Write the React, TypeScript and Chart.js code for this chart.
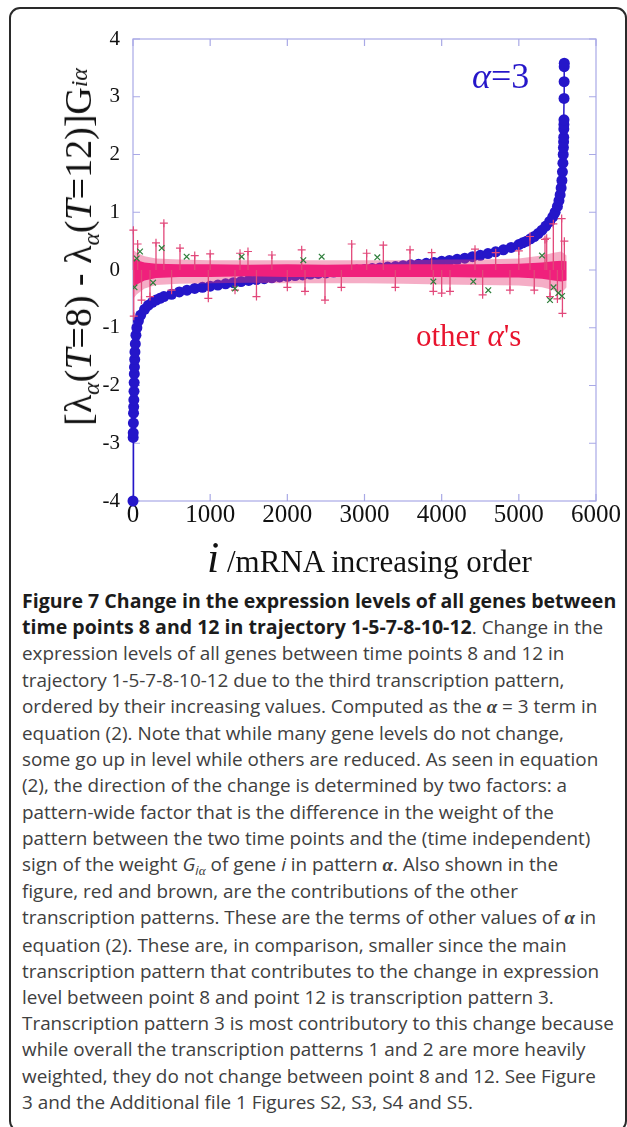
import React, { useEffect, useRef } from 'react';
import { Chart, registerables } from 'chart.js';

Chart.register(...registerables);

// axis ticks
const xTicks = [0, 1000, 2000, 3000, 4000, 5000, 6000];
const yTicks = [-4, -3, -2, -1, 0, 1, 2, 3, 4];

// alpha = 3 term, genes sorted by value
const alpha3X = [
  0, 2, 3, 5, 7, 9, 11, 13, 15, 17, 19, 22, 25, 30, 38, 50, 70, 100, 150, 200,
  250, 300, 350, 400, 500, 600, 700, 800, 900, 1000, 1100, 1200, 1300, 1400,
  1500, 1600, 1700, 1800, 1900, 2000, 2100, 2200, 2300, 2400, 2500, 2600, 2700,
  2800, 2900, 3000, 3100, 3200, 3300, 3400, 3500, 3600, 3700, 3800, 3900, 4000,
  4100, 4200, 4300, 4400, 4500, 4600, 4700, 4800, 4900, 5000, 5050, 5100, 5150,
  5200, 5250, 5300, 5350, 5400, 5440, 5470, 5500, 5520, 5535, 5548, 5558, 5565,
  5571, 5575, 5578, 5580, 5582, 5583, 5584, 5585, 5586, 5587, 5588, 5589,
];
const alpha3Y = [
  -4.0, -2.9, -2.82, -2.65, -2.48, -2.37, -2.25, -2.1, -1.95, -1.8, -1.68, -1.55,
  -1.42, -1.28, -1.13, -1.0, -0.88, -0.78, -0.68, -0.61, -0.56, -0.52, -0.49,
  -0.46, -0.42, -0.38, -0.35, -0.32, -0.3, -0.28, -0.26, -0.24, -0.22, -0.2,
  -0.18, -0.165, -0.15, -0.135, -0.12, -0.11, -0.095, -0.085, -0.07, -0.06,
  -0.05, -0.035, -0.025, -0.01, 0.0, 0.01, 0.025, 0.035, 0.05, 0.06, 0.075, 0.09,
  0.1, 0.115, 0.13, 0.15, 0.165, 0.185, 0.205, 0.23, 0.255, 0.285, 0.315, 0.35,
  0.39, 0.44, 0.47, 0.5, 0.54, 0.58, 0.63, 0.69, 0.76, 0.84, 0.92, 1.0, 1.1, 1.2,
  1.3, 1.42, 1.55, 1.7, 1.85, 2.0, 2.12, 2.22, 2.3, 2.44, 2.52, 2.6, 2.97, 3.26,
  3.52, 3.58,
];

// other alphas: dense band around zero
const bandX = [0, 50, 150, 300, 600, 1000, 1500, 2000, 2500, 3000, 3500, 4000, 4500, 5000, 5300, 5450, 5550, 5620];
const coreUpper = [0.2, 0.17, 0.13, 0.11, 0.1, 0.1, 0.09, 0.1, 0.09, 0.1, 0.1, 0.1, 0.1, 0.11, 0.13, 0.15, 0.16, 0.15];
const coreLower = [-0.3, -0.25, -0.18, -0.14, -0.12, -0.12, -0.11, -0.12, -0.12, -0.12, -0.12, -0.12, -0.13, -0.13, -0.15, -0.18, -0.2, -0.18];
const fringeUpper = [0.35, 0.3, 0.24, 0.2, 0.18, 0.17, 0.17, 0.17, 0.17, 0.17, 0.17, 0.18, 0.18, 0.2, 0.25, 0.3, 0.32, 0.25];
const fringeLower = [-0.5, -0.42, -0.32, -0.26, -0.24, -0.23, -0.22, -0.23, -0.23, -0.23, -0.24, -0.25, -0.26, -0.27, -0.3, -0.35, -0.4, -0.3];

// other alphas: spikes sticking out of the band
const spikeX = [
  5, 60, 298, 400, 609, 800, 1000, 1387, 1490, 1800, 2186, 2834, 3028, 3244, 3590, 3870,
  4432, 4700, 5000, 5144, 5339, 5361, 5447, 5555, 5590,
  10, 110, 220, 500, 976, 1322, 1600, 2000, 2229, 2488, 2700, 3400, 3892, 4000, 4108,
  4531, 4885, 5200, 5404, 5500, 5565,
];
const spikeTip = [
  0.69, 0.45, 0.47, 0.81, 0.38, 0.25, 0.28, 0.29, 0.32, 0.26, 0.35, 0.45, 0.29, 0.43, 0.35, 0.3,
  0.36, 0.3, 0.33, 0.58, 0.53, 0.55, 0.8, 0.89, 0.5,
  -0.8, -0.52, -0.46, -0.35, -0.49, -0.35, -0.46, -0.3, -0.37, -0.52, -0.3, -0.3, -0.37, -0.4, -0.37,
  -0.43, -0.35, -0.35, -0.46, -0.5, -0.75,
];

// brown/green crosses
const crossX = [48, 91, 372, 695, 1322, 1408, 2207, 2445, 3166, 3892, 4410, 4604, 5300, 5404, 5450, 5512, 5560, 20, 260];
const crossY = [0.2, 0.32, 0.38, 0.23, -0.32, 0.23, 0.17, 0.23, 0.22, -0.2, -0.2, -0.35, 0.25, -0.52, -0.3, -0.4, -0.45, -0.3, -0.22];

const BLUE = '#2516c9';
const PINK = '#f0207c';
const SPIKE = '#e2487a';
const GREEN = '#2f7f3c';
const FRAME = '#a9a9e6';

const frameTicks = {
  id: 'frameTicks',
  beforeDatasetsDraw(chart: any) {
    const { ctx, chartArea: a, scales } = chart;
    const len = 7;
    ctx.save();
    ctx.strokeStyle = FRAME;
    ctx.lineWidth = 1.2;
    ctx.strokeRect(a.left, a.top, a.right - a.left, a.bottom - a.top);
    ctx.beginPath();
    xTicks.forEach((v) => {
      const p = scales.x.getPixelForValue(v);
      ctx.moveTo(p, a.bottom);
      ctx.lineTo(p, a.bottom - len);
      ctx.moveTo(p, a.top);
      ctx.lineTo(p, a.top + len);
    });
    yTicks.forEach((v) => {
      const p = scales.y.getPixelForValue(v);
      ctx.moveTo(a.left, p);
      ctx.lineTo(a.left + len, p);
      ctx.moveTo(a.right, p);
      ctx.lineTo(a.right - len, p);
    });
    ctx.stroke();
    ctx.restore();
  },
};

const Sub: React.FC<{ children: React.ReactNode; top?: string }> = ({ children, top = '0.35em' }) => (
  <span style={{ fontSize: '0.62em', fontStyle: 'italic', position: 'relative', top }}>{children}</span>
);

const serif = '"Liberation Serif", "Times New Roman", serif';

const App: React.FC = () => {
  const chartRef = useRef<HTMLCanvasElement | null>(null);

  useEffect(() => {
    document.documentElement.style.overflow = 'hidden';
    const canvas = chartRef.current;
    if (!canvas) return;

    const spikeData: any[] = [];
    spikeX.forEach((x, i) => {
      spikeData.push({ x, y: 0, tip: false });
      spikeData.push({ x, y: spikeTip[i], tip: true });
      spikeData.push({ x, y: null, tip: false });
    });

    const band = (vals: number[]) => bandX.map((x, i) => ({ x, y: vals[i] }));
    const bandStyle = { showLine: true, pointRadius: 0, borderWidth: 0, tension: 0 };

    const chart = new Chart(canvas, {
      type: 'scatter',
      data: {
        datasets: [
          {
            label: 'crosses',
            data: crossX.map((x, i) => ({ x, y: crossY[i] })),
            pointStyle: 'crossRot',
            pointRadius: 4,
            pointBorderColor: GREEN,
            pointBorderWidth: 1.2,
            showLine: false,
          },
          {
            label: 'spikes',
            data: spikeData,
            showLine: true,
            spanGaps: false,
            borderColor: SPIKE,
            borderWidth: 1.3,
            pointStyle: 'cross',
            pointRadius: (c: any) => (c.raw && c.raw.tip ? 4 : 0),
            pointBorderColor: SPIKE,
            pointBorderWidth: 1.2,
            clip: false,
          },
          { label: 'coreUpper', data: band(coreUpper), ...bandStyle, fill: '+1', backgroundColor: PINK },
          { label: 'coreLower', data: band(coreLower), ...bandStyle, fill: false },
          { label: 'fringeUpper', data: band(fringeUpper), ...bandStyle, fill: '+1', backgroundColor: 'rgba(232,60,118,0.42)' },
          { label: 'fringeLower', data: band(fringeLower), ...bandStyle, fill: false },
          {
            label: 'alpha=3',
            data: alpha3X.map((x, i) => ({ x, y: alpha3Y[i] })),
            showLine: true,
            borderColor: BLUE,
            borderWidth: 1.5,
            pointRadius: 5.5,
            pointBackgroundColor: BLUE,
            pointBorderWidth: 0,
            clip: false,
          },
        ] as any,
      },
      options: {
        responsive: false,
        animation: false,
        events: [],
        layout: { padding: { left: 0, right: 31, top: 39, bottom: 19 } },
        plugins: { legend: { display: false }, tooltip: { enabled: false } },
        scales: {
          x: {
            type: 'linear',
            min: 0,
            max: 6000,
            afterBuildTicks: (s: any) => { s.ticks = xTicks.map((value) => ({ value })); },
            afterFit: (s: any) => { s.height = 40; },
            grid: { display: false, drawTicks: false },
            border: { display: false },
            ticks: {
              font: { family: serif, size: 25, lineHeight: 1 },
              color: '#111',
              padding: 2,
              maxRotation: 0,
              autoSkip: false,
              callback: (v: any) => String(v),
            },
          },
          y: {
            type: 'linear',
            min: -4,
            max: 4,
            afterBuildTicks: (s: any) => { s.ticks = yTicks.map((value) => ({ value })); },
            afterFit: (s: any) => { s.width = 133; },
            grid: { display: false, drawTicks: false },
            border: { display: false },
            ticks: {
              font: { family: serif, size: 21 },
              color: '#111',
              padding: 13,
              autoSkip: false,
              callback: (v: any) => String(v),
            },
          },
        },
      } as any,
      plugins: [frameTicks],
    });

    return () => {
      chart.destroy();
    };
  }, []);

  const text = '#404040';
  const bold: React.CSSProperties = { fontWeight: 700, color: '#1c1c1c', fontSize: '1.035em' };
  const greek: React.CSSProperties = { fontFamily: serif, fontStyle: 'italic' };
  const lines: React.ReactNode[] = [
    <span style={bold}>Figure 7 Change in the expression levels of all genes between</span>,
    <><span style={bold}>time points 8 and 12 in trajectory 1-5-7-8-10-12</span>. Change in the</>,
    <>expression levels of all genes between time points 8 and 12 in</>,
    <>trajectory 1-5-7-8-10-12 due to the third transcription pattern,</>,
    <>ordered by their increasing values. Computed as the <span style={{ ...greek, fontWeight: 700 }}>α</span> = 3 term in</>,
    <>equation (2). Note that while many gene levels do not change,</>,
    <>some go up in level while others are reduced. As seen in equation</>,
    <>(2), the direction of the change is determined by two factors: a</>,
    <>pattern-wide factor that is the difference in the weight of the</>,
    <>pattern between the two time points and the (time independent)</>,
    <>sign of the weight <i>G</i><span style={{ fontSize: '0.7em', lineHeight: 1, position: 'relative', top: '0.3em' }}><i>i</i><span style={greek}>α</span></span> of gene <i>i</i> in pattern <span style={{ ...greek, fontWeight: 700 }}>α</span>. Also shown in the</>,
    <>figure, red and brown, are the contributions of the other</>,
    <>transcription patterns. These are the terms of other values of <span style={{ ...greek, fontWeight: 700 }}>α</span> in</>,
    <>equation (2). These are, in comparison, smaller since the main</>,
    <>transcription pattern that contributes to the change in expression</>,
    <>level between point 8 and point 12 is transcription pattern 3.</>,
    <>Transcription pattern 3 is most contributory to this change because</>,
    <>while overall the transcription patterns 1 and 2 are more heavily</>,
    <>weighted, they do not change between point 8 and 12. See Figure</>,
    <>3 and the Additional file 1 Figures S2, S3, S4 and S5.</>,
  ];

  return (
    <div style={{ position: 'absolute', left: 0, top: 0, width: 627, height: 1127, overflow: 'hidden', background: '#fff' }}>
      <div
        style={{
          position: 'absolute', left: 9, top: 7, width: 618, height: 1125,
          border: '2px solid #2a2a2a', borderRadius: 11, boxSizing: 'border-box',
        }}
      />
      <canvas ref={chartRef} width={627} height={560} style={{ position: 'absolute', left: 0, top: 0 }} />

      {/* y axis title */}
      <div
        style={{
          position: 'absolute', left: 78, top: 247, transform: 'translate(-50%, -50%) rotate(-90deg)',
          fontFamily: serif, fontSize: 38, lineHeight: 1, whiteSpace: 'nowrap', color: '#111',
        }}
      >
        [λ<Sub>α</Sub>(<i>T</i>=8) - λ<Sub>α</Sub>(<i>T</i>=12)]G<Sub top="-0.18em">iα</Sub>
      </div>

      {/* x axis title */}
      <div
        style={{
          position: 'absolute', left: 207, top: 536, fontFamily: serif, fontSize: 44, lineHeight: 1,
          whiteSpace: 'nowrap', color: '#111',
        }}
      >
        <i>i</i>
        <span style={{ fontSize: 31 }}> /mRNA increasing order</span>
      </div>

      {/* series annotations */}
      <div style={{ position: 'absolute', left: 472, top: 58, fontFamily: serif, fontSize: 36, lineHeight: 1, color: BLUE, whiteSpace: 'nowrap' }}>
        <i>α</i>=3
      </div>
      <div style={{ position: 'absolute', left: 416, top: 320, fontFamily: serif, fontSize: 31, lineHeight: 1, color: '#e8142e', whiteSpace: 'nowrap' }}>
        other <i>α</i>'s
      </div>

      {/* caption */}
      <div
        style={{
          position: 'absolute', left: 22, top: 588, fontFamily: '"Open Sans", sans-serif', fontSize: 18.9,
          lineHeight: '26.2px', color: text,
        }}
      >
        {lines.map((l, i) => (
          <div key={i} style={{ whiteSpace: 'nowrap' }}>{l}</div>
        ))}
      </div>
    </div>
  );
};

export default App;
